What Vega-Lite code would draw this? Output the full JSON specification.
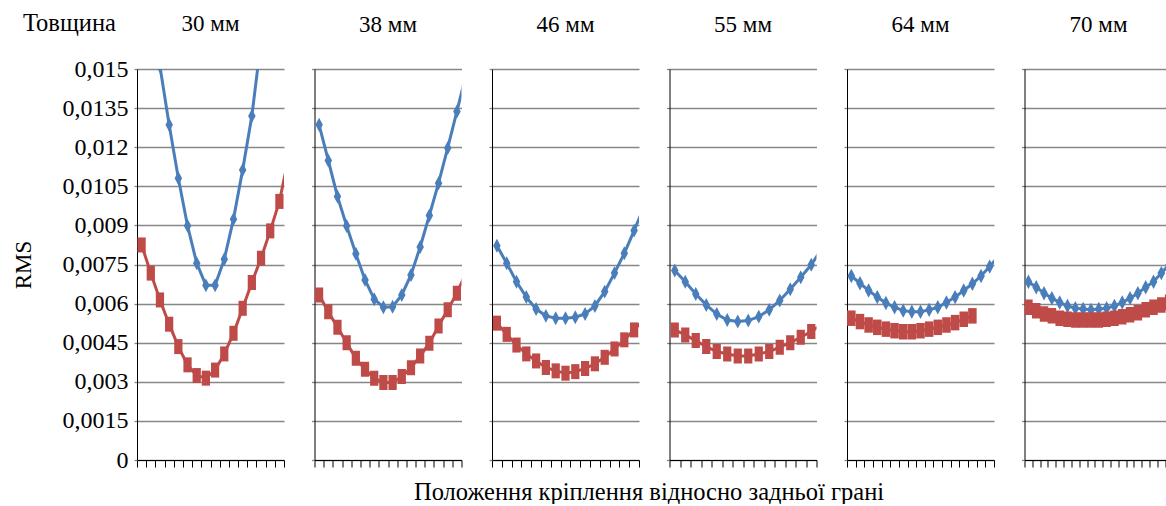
{
  "$schema": "https://vega.github.io/schema/vega-lite/v6.json",
  "padding": {"left": 12, "top": 10, "right": 0, "bottom": 0},
  "title": {"text": "Товщина", "anchor": "start", "frame": "bounds", "baseline": "alphabetic", "offset": -42, "dx": 11, "font": "Liberation Serif", "fontSize": 24.5, "fontWeight": "normal", "color": "#000"},
  "spacing": 30.5,
  "bounds": "flush",
  "config": {
    "view": {"stroke": null},
    "font": "Liberation Serif",
    "title": {"font": "Liberation Serif", "fontSize": 23, "fontWeight": "normal", "color": "#000", "baseline": "alphabetic", "offset": 31},
    "axis": {"labelFont": "Liberation Serif", "labelFontSize": 23, "labelColor": "#000", "titleFont": "Liberation Serif", "titleFontSize": 23, "titleFontWeight": "normal", "titleColor": "#000", "domainColor": "#000", "domainWidth": 1},
    "axisX": {"grid": false, "labels": false, "tickColor": "#000", "tickSize": 7, "tickWidth": 1},
    "axisY": {"grid": true, "gridColor": "#878787", "gridWidth": 1.3, "tickColor": "#878787", "tickWidth": 1.3, "tickSize": 3, "labels": false}
  },
  "datasets": {
    "rms": [
      {"p":1,"s":"A","x":1,"v":0.0200},{"p":1,"s":"A","x":2,"v":0.0175},{"p":1,"s":"A","x":3,"v":0.0151},{"p":1,"s":"A","x":4,"v":0.01286},{"p":1,"s":"A","x":5,"v":0.01081},{"p":1,"s":"A","x":6,"v":0.00899},{"p":1,"s":"A","x":7,"v":0.00755},{"p":1,"s":"A","x":8,"v":0.0067},{"p":1,"s":"A","x":9,"v":0.0067},{"p":1,"s":"A","x":10,"v":0.0077},{"p":1,"s":"A","x":11,"v":0.00924},{"p":1,"s":"A","x":12,"v":0.01113},{"p":1,"s":"A","x":13,"v":0.0132},{"p":1,"s":"A","x":14,"v":0.01607},{"p":1,"s":"A","x":15,"v":0.0185},{"p":1,"s":"A","x":16,"v":0.021},
      {"p":1,"s":"B","x":1,"v":0.00825},{"p":1,"s":"B","x":2,"v":0.00717},{"p":1,"s":"B","x":3,"v":0.00614},{"p":1,"s":"B","x":4,"v":0.00521},{"p":1,"s":"B","x":5,"v":0.00435},{"p":1,"s":"B","x":6,"v":0.00365},{"p":1,"s":"B","x":7,"v":0.00324},{"p":1,"s":"B","x":8,"v":0.00314},{"p":1,"s":"B","x":9,"v":0.00345},{"p":1,"s":"B","x":10,"v":0.00407},{"p":1,"s":"B","x":11,"v":0.00486},{"p":1,"s":"B","x":12,"v":0.00582},{"p":1,"s":"B","x":13,"v":0.00681},{"p":1,"s":"B","x":14,"v":0.00774},{"p":1,"s":"B","x":15,"v":0.00879},{"p":1,"s":"B","x":16,"v":0.00992},{"p":1,"s":"B","x":17,"v":0.0116},
      {"p":2,"s":"A","x":1,"v":0.01286},{"p":2,"s":"A","x":2,"v":0.01149},{"p":2,"s":"A","x":3,"v":0.01011},{"p":2,"s":"A","x":4,"v":0.00898},{"p":2,"s":"A","x":5,"v":0.00791},{"p":2,"s":"A","x":6,"v":0.00691},{"p":2,"s":"A","x":7,"v":0.00617},{"p":2,"s":"A","x":8,"v":0.00586},{"p":2,"s":"A","x":9,"v":0.00588},{"p":2,"s":"A","x":10,"v":0.00633},{"p":2,"s":"A","x":11,"v":0.0071},{"p":2,"s":"A","x":12,"v":0.00817},{"p":2,"s":"A","x":13,"v":0.00938},{"p":2,"s":"A","x":14,"v":0.01062},{"p":2,"s":"A","x":15,"v":0.01197},{"p":2,"s":"A","x":16,"v":0.01337},{"p":2,"s":"A","x":17,"v":0.0148},
      {"p":2,"s":"B","x":1,"v":0.00633},{"p":2,"s":"B","x":2,"v":0.00569},{"p":2,"s":"B","x":3,"v":0.00509},{"p":2,"s":"B","x":4,"v":0.0045},{"p":2,"s":"B","x":5,"v":0.0039},{"p":2,"s":"B","x":6,"v":0.00348},{"p":2,"s":"B","x":7,"v":0.00314},{"p":2,"s":"B","x":8,"v":0.00297},{"p":2,"s":"B","x":9,"v":0.00297},{"p":2,"s":"B","x":10,"v":0.0032},{"p":2,"s":"B","x":11,"v":0.00354},{"p":2,"s":"B","x":12,"v":0.00399},{"p":2,"s":"B","x":13,"v":0.00448},{"p":2,"s":"B","x":14,"v":0.00514},{"p":2,"s":"B","x":15,"v":0.00576},{"p":2,"s":"B","x":16,"v":0.0064},{"p":2,"s":"B","x":17,"v":0.0072},
      {"p":3,"s":"A","x":1,"v":0.00822},{"p":3,"s":"A","x":2,"v":0.00755},{"p":3,"s":"A","x":3,"v":0.00684},{"p":3,"s":"A","x":4,"v":0.00625},{"p":3,"s":"A","x":5,"v":0.00579},{"p":3,"s":"A","x":6,"v":0.00553},{"p":3,"s":"A","x":7,"v":0.00544},{"p":3,"s":"A","x":8,"v":0.00544},{"p":3,"s":"A","x":9,"v":0.00548},{"p":3,"s":"A","x":10,"v":0.0056},{"p":3,"s":"A","x":11,"v":0.00591},{"p":3,"s":"A","x":12,"v":0.00646},{"p":3,"s":"A","x":13,"v":0.00717},{"p":3,"s":"A","x":14,"v":0.00793},{"p":3,"s":"A","x":15,"v":0.0088},{"p":3,"s":"A","x":16,"v":0.0097},
      {"p":3,"s":"B","x":1,"v":0.00525},{"p":3,"s":"B","x":2,"v":0.00482},{"p":3,"s":"B","x":3,"v":0.00441},{"p":3,"s":"B","x":4,"v":0.00407},{"p":3,"s":"B","x":5,"v":0.0038},{"p":3,"s":"B","x":6,"v":0.00355},{"p":3,"s":"B","x":7,"v":0.00342},{"p":3,"s":"B","x":8,"v":0.00333},{"p":3,"s":"B","x":9,"v":0.00339},{"p":3,"s":"B","x":10,"v":0.00351},{"p":3,"s":"B","x":11,"v":0.00369},{"p":3,"s":"B","x":12,"v":0.00394},{"p":3,"s":"B","x":13,"v":0.00426},{"p":3,"s":"B","x":14,"v":0.00461},{"p":3,"s":"B","x":15,"v":0.00499},{"p":3,"s":"B","x":16,"v":0.0054},
      {"p":4,"s":"A","x":1,"v":0.00727},{"p":4,"s":"A","x":2,"v":0.00684},{"p":4,"s":"A","x":3,"v":0.00637},{"p":4,"s":"A","x":4,"v":0.00595},{"p":4,"s":"A","x":5,"v":0.0056},{"p":4,"s":"A","x":6,"v":0.00537},{"p":4,"s":"A","x":7,"v":0.00531},{"p":4,"s":"A","x":8,"v":0.00535},{"p":4,"s":"A","x":9,"v":0.0055},{"p":4,"s":"A","x":10,"v":0.00576},{"p":4,"s":"A","x":11,"v":0.00612},{"p":4,"s":"A","x":12,"v":0.00655},{"p":4,"s":"A","x":13,"v":0.00701},{"p":4,"s":"A","x":14,"v":0.00749},{"p":4,"s":"A","x":15,"v":0.0081},
      {"p":4,"s":"B","x":1,"v":0.00499},{"p":4,"s":"B","x":2,"v":0.0048},{"p":4,"s":"B","x":3,"v":0.00458},{"p":4,"s":"B","x":4,"v":0.00435},{"p":4,"s":"B","x":5,"v":0.00416},{"p":4,"s":"B","x":6,"v":0.00407},{"p":4,"s":"B","x":7,"v":0.00399},{"p":4,"s":"B","x":8,"v":0.00399},{"p":4,"s":"B","x":9,"v":0.00407},{"p":4,"s":"B","x":10,"v":0.00416},{"p":4,"s":"B","x":11,"v":0.00433},{"p":4,"s":"B","x":12,"v":0.0045},{"p":4,"s":"B","x":13,"v":0.00471},{"p":4,"s":"B","x":14,"v":0.00493},{"p":4,"s":"B","x":15,"v":0.0052},
      {"p":5,"s":"A","x":1,"v":0.00706},{"p":5,"s":"A","x":2,"v":0.00678},{"p":5,"s":"A","x":3,"v":0.0065},{"p":5,"s":"A","x":4,"v":0.00625},{"p":5,"s":"A","x":5,"v":0.00602},{"p":5,"s":"A","x":6,"v":0.00586},{"p":5,"s":"A","x":7,"v":0.00573},{"p":5,"s":"A","x":8,"v":0.00569},{"p":5,"s":"A","x":9,"v":0.00569},{"p":5,"s":"A","x":10,"v":0.00576},{"p":5,"s":"A","x":11,"v":0.00586},{"p":5,"s":"A","x":12,"v":0.00604},{"p":5,"s":"A","x":13,"v":0.00625},{"p":5,"s":"A","x":14,"v":0.0065},{"p":5,"s":"A","x":15,"v":0.00676},{"p":5,"s":"A","x":16,"v":0.00706},{"p":5,"s":"A","x":17,"v":0.00742},{"p":5,"s":"A","x":18,"v":0.0078},
      {"p":5,"s":"B","x":1,"v":0.00544},{"p":5,"s":"B","x":2,"v":0.00531},{"p":5,"s":"B","x":3,"v":0.00518},{"p":5,"s":"B","x":4,"v":0.00509},{"p":5,"s":"B","x":5,"v":0.00502},{"p":5,"s":"B","x":6,"v":0.00496},{"p":5,"s":"B","x":7,"v":0.00492},{"p":5,"s":"B","x":8,"v":0.00492},{"p":5,"s":"B","x":9,"v":0.00496},{"p":5,"s":"B","x":10,"v":0.00502},{"p":5,"s":"B","x":11,"v":0.00509},{"p":5,"s":"B","x":12,"v":0.00518},{"p":5,"s":"B","x":13,"v":0.00527},{"p":5,"s":"B","x":14,"v":0.0054},{"p":5,"s":"B","x":15,"v":0.00553},
      {"p":6,"s":"A","x":1,"v":0.00684},{"p":6,"s":"A","x":2,"v":0.00663},{"p":6,"s":"A","x":3,"v":0.0064},{"p":6,"s":"A","x":4,"v":0.00621},{"p":6,"s":"A","x":5,"v":0.00604},{"p":6,"s":"A","x":6,"v":0.00591},{"p":6,"s":"A","x":7,"v":0.00582},{"p":6,"s":"A","x":8,"v":0.00579},{"p":6,"s":"A","x":9,"v":0.00576},{"p":6,"s":"A","x":10,"v":0.00579},{"p":6,"s":"A","x":11,"v":0.00582},{"p":6,"s":"A","x":12,"v":0.00591},{"p":6,"s":"A","x":13,"v":0.00604},{"p":6,"s":"A","x":14,"v":0.00621},{"p":6,"s":"A","x":15,"v":0.0064},{"p":6,"s":"A","x":16,"v":0.00663},{"p":6,"s":"A","x":17,"v":0.00684},{"p":6,"s":"A","x":18,"v":0.00717},{"p":6,"s":"A","x":19,"v":0.0075},
      {"p":6,"s":"B","x":1,"v":0.00586},{"p":6,"s":"B","x":2,"v":0.00573},{"p":6,"s":"B","x":3,"v":0.0056},{"p":6,"s":"B","x":4,"v":0.00553},{"p":6,"s":"B","x":5,"v":0.00544},{"p":6,"s":"B","x":6,"v":0.0054},{"p":6,"s":"B","x":7,"v":0.00537},{"p":6,"s":"B","x":8,"v":0.00537},{"p":6,"s":"B","x":9,"v":0.00537},{"p":6,"s":"B","x":10,"v":0.00537},{"p":6,"s":"B","x":11,"v":0.0054},{"p":6,"s":"B","x":12,"v":0.00544},{"p":6,"s":"B","x":13,"v":0.0055},{"p":6,"s":"B","x":14,"v":0.00557},{"p":6,"s":"B","x":15,"v":0.00565},{"p":6,"s":"B","x":16,"v":0.00576},{"p":6,"s":"B","x":17,"v":0.00586},{"p":6,"s":"B","x":18,"v":0.00595},{"p":6,"s":"B","x":19,"v":0.00605}
    ]
  },
  "hconcat": [
    {
      "width": 147, "height": 391,
      "title": {"text": "30 мм", "offset": 21},
      "data": {"name": "rms"},
      "transform": [{"filter": "datum.p == 1"}],
      "encoding": {
        "x": {"field": "x", "type": "quantitative", "scale": {"domain": [0.5, 16.5], "nice": false, "zero": false}, "axis": {"title": null, "values": [0.5,1.5,2.5,3.5,4.5,5.5,6.5,7.5,8.5,9.5,10.5,11.5,12.5,13.5,14.5,15.5,16.5]}},
        "y": {"field": "v", "type": "quantitative", "scale": {"domain": [0, 0.015], "nice": false, "zero": true}, "axis": {"values": [0,0.0015,0.003,0.0045,0.006,0.0075,0.009,0.0105,0.012,0.0135,0.015], "labels": true, "labelFont": "Liberation Serif", "labelFontSize": 24, "labelPadding": 6, "labelExpr": "replace(format(datum.value, '~g'), '.', ',')", "title": "RMS", "titleFont": "Liberation Serif", "titleX": -107, "titleY": 195.5, "titleAngle": -90, "titleBaseline": "alphabetic", "titleAlign": "center"}},
        "color": {"field": "s", "type": "nominal", "scale": {"domain": ["A", "B"], "range": ["#4a7ebb", "#be4b48"]}, "legend": null}
      },
      "layer": [
        {"mark": {"type": "line", "clip": true, "strokeWidth": 3}, "encoding": {}},
        {"mark": {"type": "point", "filled": true, "opacity": 1, "clip": true, "size": 225},
         "encoding": {"shape": {"field": "s", "type": "nominal", "scale": {"domain": ["A", "B"], "range": ["M0,-0.93L0.5,0L0,0.93L-0.5,0Z", "M-0.55,-1H0.55V1H-0.55Z"]}, "legend": null}}}
      ]
    },
    {
      "width": 147, "height": 391,
      "title": "38 мм",
      "data": {"name": "rms"},
      "transform": [{"filter": "datum.p == 2"}],
      "encoding": {
        "x": {"field": "x", "type": "quantitative", "scale": {"domain": [0.5, 16.5], "nice": false, "zero": false}, "axis": {"title": null, "values": [0.5,1.5,2.5,3.5,4.5,5.5,6.5,7.5,8.5,9.5,10.5,11.5,12.5,13.5,14.5,15.5,16.5]}},
        "y": {"field": "v", "type": "quantitative", "scale": {"domain": [0, 0.015], "nice": false, "zero": true}, "axis": {"values": [0,0.0015,0.003,0.0045,0.006,0.0075,0.009,0.0105,0.012,0.0135,0.015], "title": null}},
        "color": {"field": "s", "type": "nominal", "scale": {"domain": ["A", "B"], "range": ["#4a7ebb", "#be4b48"]}, "legend": null}
      },
      "layer": [
        {"mark": {"type": "line", "clip": true, "strokeWidth": 3}, "encoding": {}},
        {"mark": {"type": "point", "filled": true, "opacity": 1, "clip": true, "size": 225},
         "encoding": {"shape": {"field": "s", "type": "nominal", "scale": {"domain": ["A", "B"], "range": ["M0,-0.93L0.52,0L0,0.93L-0.52,0Z", "M-0.6,-1H0.6V1H-0.6Z"]}, "legend": null}}}
      ]
    },
    {
      "width": 147, "height": 391,
      "title": "46 мм",
      "data": {"name": "rms"},
      "transform": [{"filter": "datum.p == 3"}],
      "encoding": {
        "x": {"field": "x", "type": "quantitative", "scale": {"domain": [0.5, 15.5], "nice": false, "zero": false}, "axis": {"values": [0.5,1.5,2.5,3.5,4.5,5.5,6.5,7.5,8.5,9.5,10.5,11.5,12.5,13.5,14.5,15.5], "title": "Положення кріплення відносно задньої грані", "titleFont": "Liberation Serif", "titleFontSize": 24.5, "titleX": 156.5, "titleY": 39, "titleBaseline": "alphabetic", "titleAlign": "center"}},
        "y": {"field": "v", "type": "quantitative", "scale": {"domain": [0, 0.015], "nice": false, "zero": true}, "axis": {"values": [0,0.0015,0.003,0.0045,0.006,0.0075,0.009,0.0105,0.012,0.0135,0.015], "title": null}},
        "color": {"field": "s", "type": "nominal", "scale": {"domain": ["A", "B"], "range": ["#4a7ebb", "#be4b48"]}, "legend": null}
      },
      "layer": [
        {"mark": {"type": "line", "clip": true, "strokeWidth": 3}, "encoding": {}},
        {"mark": {"type": "point", "filled": true, "opacity": 1, "clip": true, "size": 225},
         "encoding": {"shape": {"field": "s", "type": "nominal", "scale": {"domain": ["A", "B"], "range": ["M0,-0.93L0.48,0L0,0.93L-0.48,0Z", "M-0.6,-1H0.6V1H-0.6Z"]}, "legend": null}}}
      ]
    },
    {
      "width": 147, "height": 391,
      "title": "55 мм",
      "data": {"name": "rms"},
      "transform": [{"filter": "datum.p == 4"}],
      "encoding": {
        "x": {"field": "x", "type": "quantitative", "scale": {"domain": [0.5, 14.5], "nice": false, "zero": false}, "axis": {"title": null, "values": [0.5,1.5,2.5,3.5,4.5,5.5,6.5,7.5,8.5,9.5,10.5,11.5,12.5,13.5,14.5]}},
        "y": {"field": "v", "type": "quantitative", "scale": {"domain": [0, 0.015], "nice": false, "zero": true}, "axis": {"values": [0,0.0015,0.003,0.0045,0.006,0.0075,0.009,0.0105,0.012,0.0135,0.015], "title": null}},
        "color": {"field": "s", "type": "nominal", "scale": {"domain": ["A", "B"], "range": ["#4a7ebb", "#be4b48"]}, "legend": null}
      },
      "layer": [
        {"mark": {"type": "line", "clip": true, "strokeWidth": 3}, "encoding": {}},
        {"mark": {"type": "point", "filled": true, "opacity": 1, "clip": true, "size": 225},
         "encoding": {"shape": {"field": "s", "type": "nominal", "scale": {"domain": ["A", "B"], "range": ["M0,-0.93L0.48,0L0,0.93L-0.48,0Z", "M-0.58,-1H0.58V1H-0.58Z"]}, "legend": null}}}
      ]
    },
    {
      "width": 147, "height": 391,
      "title": "64 мм",
      "data": {"name": "rms"},
      "transform": [{"filter": "datum.p == 5"}],
      "encoding": {
        "x": {"field": "x", "type": "quantitative", "scale": {"domain": [0.5, 17.5], "nice": false, "zero": false}, "axis": {"title": null, "values": [0.5,1.5,2.5,3.5,4.5,5.5,6.5,7.5,8.5,9.5,10.5,11.5,12.5,13.5,14.5,15.5,16.5,17.5]}},
        "y": {"field": "v", "type": "quantitative", "scale": {"domain": [0, 0.015], "nice": false, "zero": true}, "axis": {"values": [0,0.0015,0.003,0.0045,0.006,0.0075,0.009,0.0105,0.012,0.0135,0.015], "title": null}},
        "color": {"field": "s", "type": "nominal", "scale": {"domain": ["A", "B"], "range": ["#4a7ebb", "#be4b48"]}, "legend": null}
      },
      "layer": [
        {"mark": {"type": "line", "clip": true, "strokeWidth": 3}, "encoding": {}},
        {"mark": {"type": "point", "filled": true, "opacity": 1, "clip": true, "size": 240},
         "encoding": {"shape": {"field": "s", "type": "nominal", "scale": {"domain": ["A", "B"], "range": ["M0,-0.9L0.42,0L0,0.9L-0.42,0Z", "M-0.4,-1H0.4V1H-0.4Z"]}, "legend": null}}}
      ]
    },
    {
      "width": 142, "height": 391,
      "title": {"text": "70 мм", "dx": 3},
      "data": {"name": "rms"},
      "transform": [{"filter": "datum.p == 6"}],
      "encoding": {
        "x": {"field": "x", "type": "quantitative", "scale": {"domain": [0.5, 18.66], "nice": false, "zero": false}, "axis": {"title": null, "values": [0.5,1.5,2.5,3.5,4.5,5.5,6.5,7.5,8.5,9.5,10.5,11.5,12.5,13.5,14.5,15.5,16.5,17.5,18.5]}},
        "y": {"field": "v", "type": "quantitative", "scale": {"domain": [0, 0.015], "nice": false, "zero": true}, "axis": {"values": [0,0.0015,0.003,0.0045,0.006,0.0075,0.009,0.0105,0.012,0.0135,0.015], "title": null}},
        "color": {"field": "s", "type": "nominal", "scale": {"domain": ["A", "B"], "range": ["#4a7ebb", "#be4b48"]}, "legend": null}
      },
      "layer": [
        {"mark": {"type": "line", "clip": true, "strokeWidth": 3}, "encoding": {}},
        {"mark": {"type": "point", "filled": true, "opacity": 1, "clip": true, "size": 240},
         "encoding": {"shape": {"field": "s", "type": "nominal", "scale": {"domain": ["A", "B"], "range": ["M0,-0.9L0.42,0L0,0.9L-0.42,0Z", "M-0.4,-1H0.4V1H-0.4Z"]}, "legend": null}}}
      ]
    }
  ]
}
